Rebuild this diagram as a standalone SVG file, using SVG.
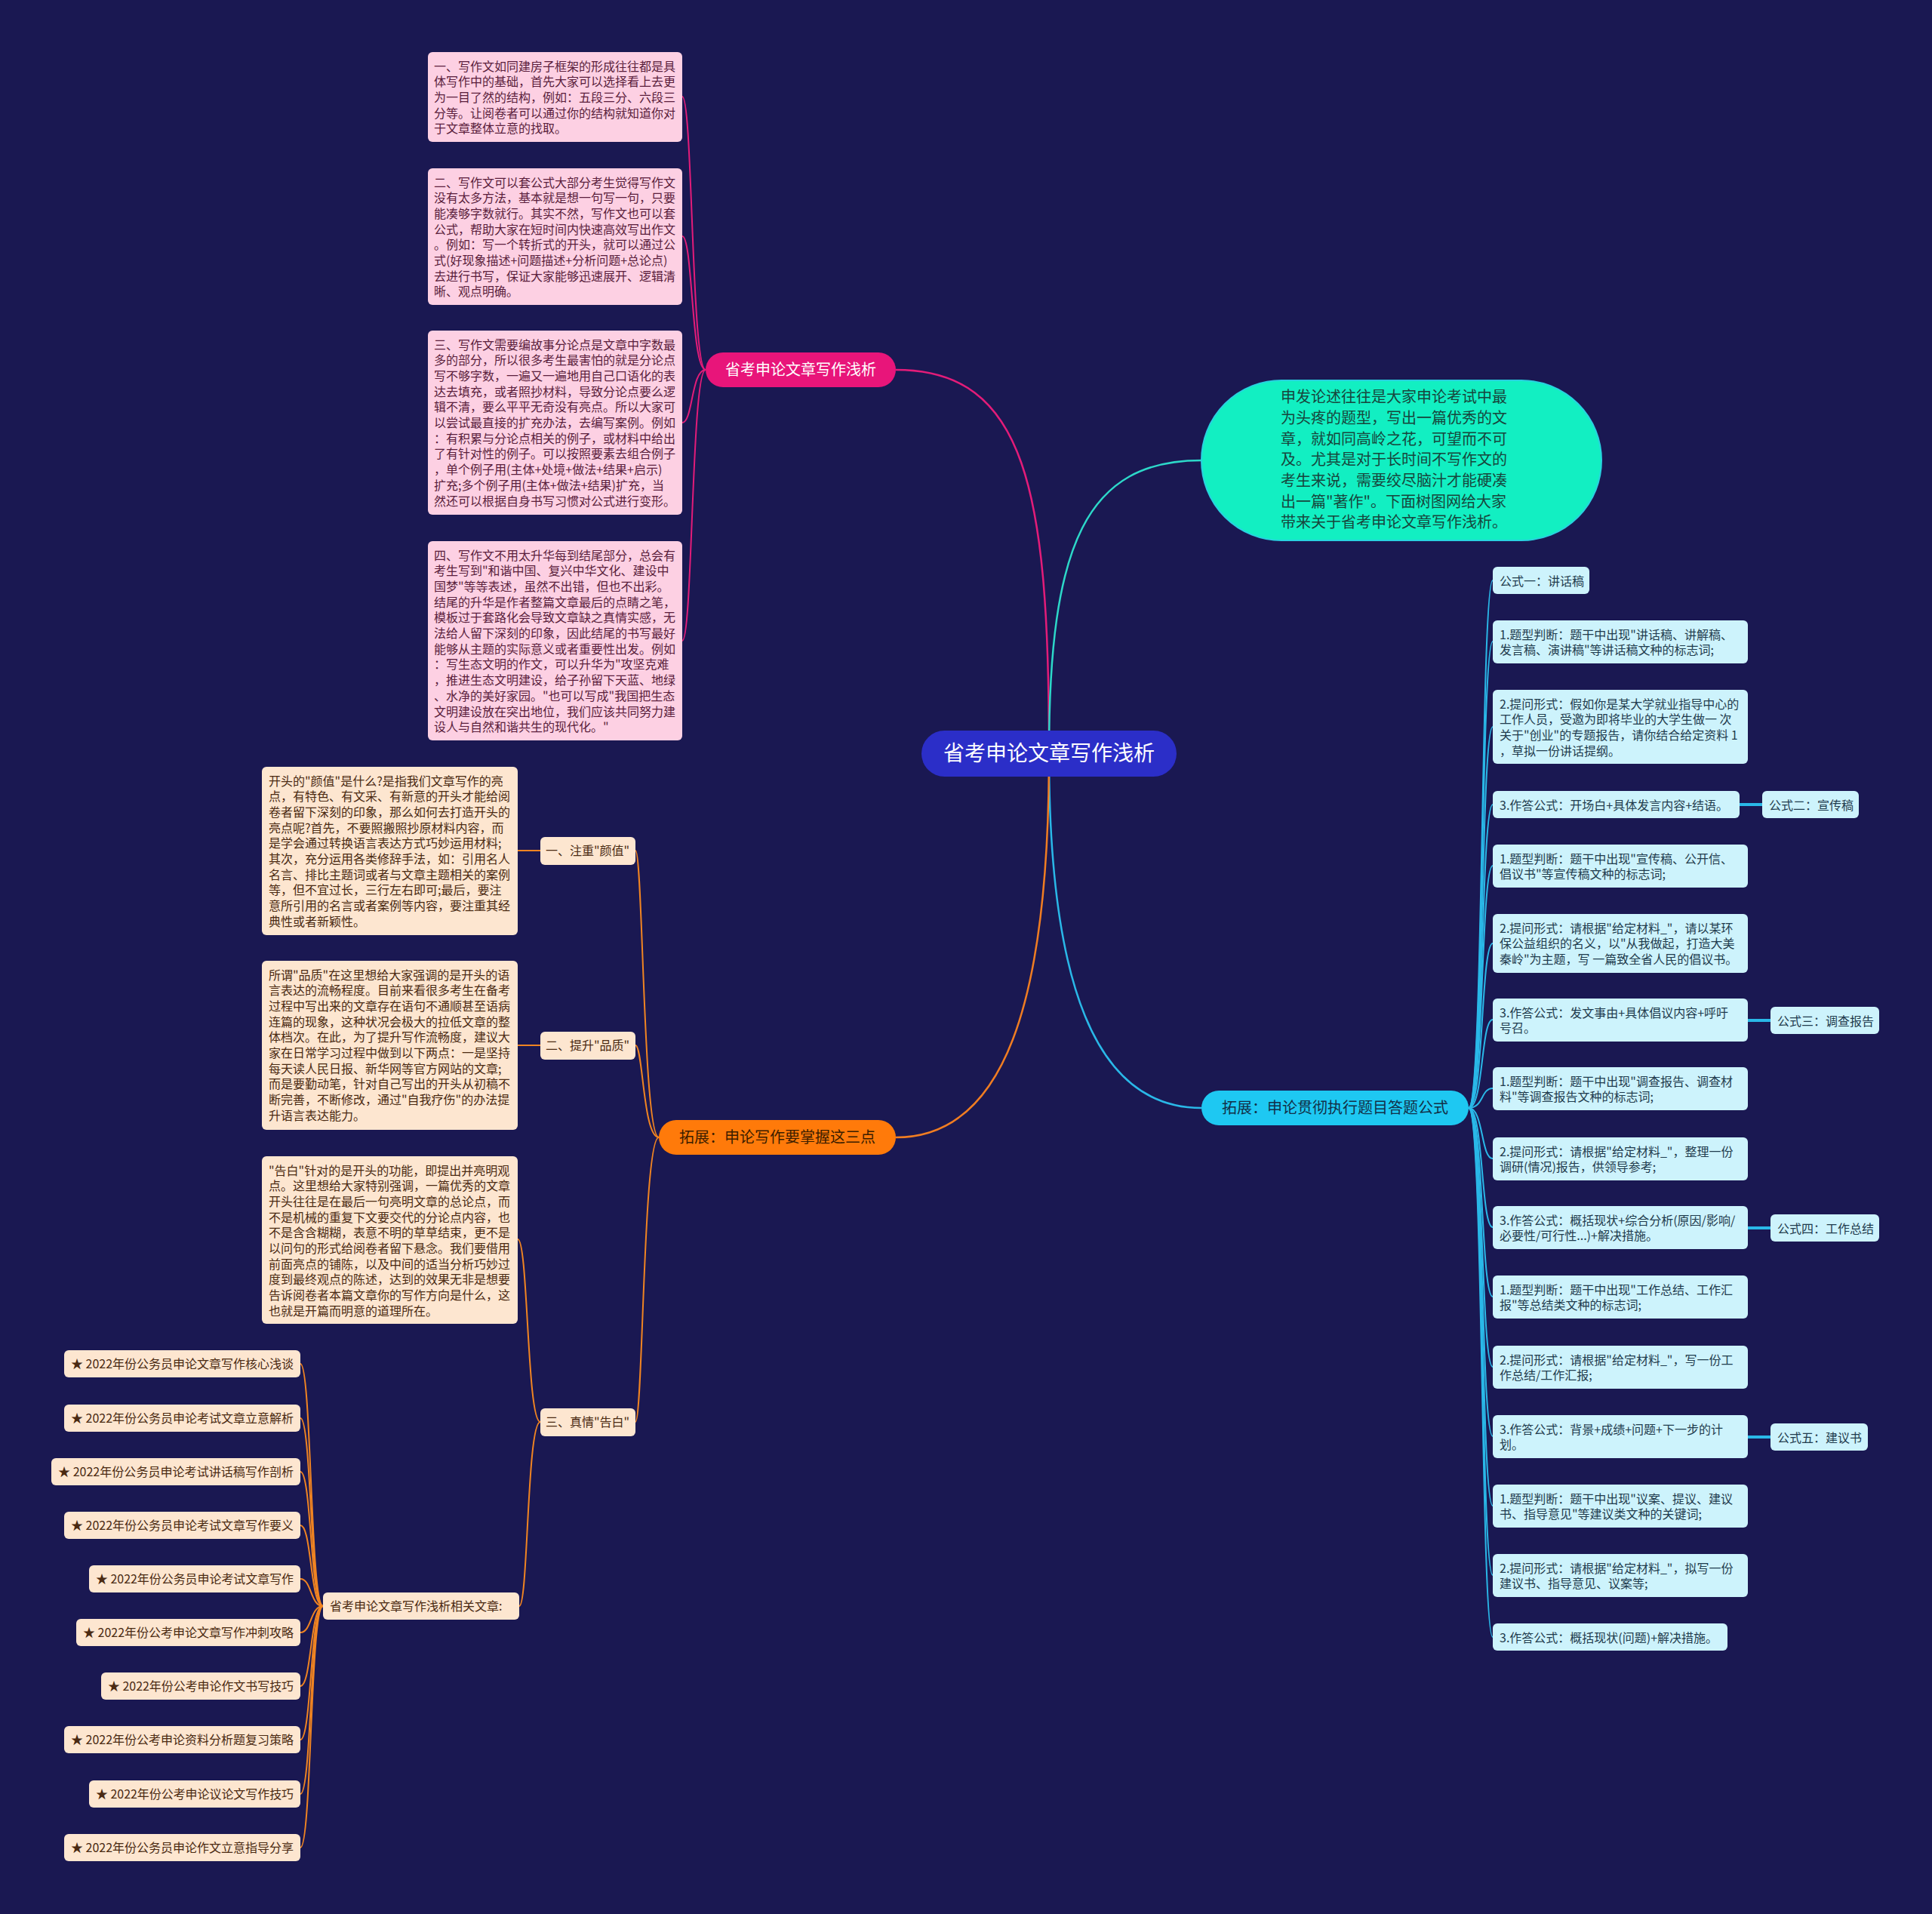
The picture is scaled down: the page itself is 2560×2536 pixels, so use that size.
<svg xmlns="http://www.w3.org/2000/svg" width="2560" height="2536" viewBox="0 0 2560 2536">
<style>
text{font-family:'Noto Sans CJK SC','Noto Sans',sans-serif;}
.pb{fill:#fdd0e3;}
.pt{fill:#5a1e3c;font-size:16px;}
.ob{fill:#fde6d0;}
.ot{fill:#4a2a12;font-size:16px;}
.it{fill:#4a2a12;font-size:16px;}
.cb{fill:#cdf3fc;}
.ct{fill:#1f3b4d;font-size:16px;}
.lp{fill:none;stroke:#e31c79;stroke-width:2;}
.lo{fill:none;stroke:#f08422;stroke-width:2;}
.lc{fill:none;stroke:#2ab8e8;stroke-width:2;}
.lcw{fill:none;stroke:#2ab8e8;stroke-width:4;}
</style>
<rect x="0" y="0" width="2560" height="2536" fill="#1a1852"/>

<g id="connectors">
  <path d="M1187,490 C1360,490 1390,650 1390,998" fill="none" stroke="#e31c79" stroke-width="2.5"/>
  <path d="M1390,998 C1390,720 1440,610 1592,610" fill="none" stroke="#2dd8c9" stroke-width="2.5"/>
  <path d="M1390,998 C1390,1300 1450,1468 1592,1468" fill="none" stroke="#2ab8e8" stroke-width="2.5"/>
  <path d="M1390,998 C1390,1330 1330,1507 1187,1507" fill="none" stroke="#f07d22" stroke-width="2.5"/>
  <path class="lp" d="M935,490 C916,490 918,128 904,128"/>
  <path class="lp" d="M935,490 C916,490 918,313 904,313"/>
  <path class="lp" d="M935,490 C916,490 918,560 904,560"/>
  <path class="lp" d="M935,490 C916,490 918,849 904,849"/>
  <path class="lo" d="M873,1507 C852,1507 852,1127 842,1127"/>
  <path class="lo" d="M873,1507 C852,1507 852,1385 842,1385"/>
  <path class="lo" d="M873,1507 C852,1507 852,1884 842,1884"/>
  <path class="lo" d="M716,1127 L686,1127"/>
  <path class="lo" d="M716,1385 L686,1385"/>
  <path class="lo" d="M716,1884 C698,1884 700,1642 686,1642"/>
  <path class="lo" d="M716,1884 C698,1884 700,2128 688,2128"/>
  <path class="lo" d="M428,2128 C411,2128 413,1807 398,1807"/>
  <path class="lo" d="M428,2128 C411,2128 413,1879 398,1879"/>
  <path class="lo" d="M428,2128 C411,2128 413,1950 398,1950"/>
  <path class="lo" d="M428,2128 C411,2128 413,2021 398,2021"/>
  <path class="lo" d="M428,2128 C411,2128 413,2092 398,2092"/>
  <path class="lo" d="M428,2128 C411,2128 413,2163 398,2163"/>
  <path class="lo" d="M428,2128 C411,2128 413,2234 398,2234"/>
  <path class="lo" d="M428,2128 C411,2128 413,2305 398,2305"/>
  <path class="lo" d="M428,2128 C411,2128 413,2377 398,2377"/>
  <path class="lo" d="M428,2128 C411,2128 413,2448 398,2448"/>
  <path class="lc" d="M1946,1468 C1966,1468 1962,769 1978,769"/>
  <path class="lc" d="M1946,1468 C1966,1468 1962,850 1978,850"/>
  <path class="lc" d="M1946,1468 C1966,1468 1962,963 1978,963"/>
  <path class="lc" d="M1946,1468 C1966,1468 1962,1066 1978,1066"/>
  <path class="lc" d="M1946,1468 C1966,1468 1962,1147 1978,1147"/>
  <path class="lc" d="M1946,1468 C1966,1468 1962,1250 1978,1250"/>
  <path class="lc" d="M1946,1468 C1966,1468 1962,1351 1978,1351"/>
  <path class="lc" d="M1946,1468 C1966,1468 1962,1442 1978,1442"/>
  <path class="lc" d="M1946,1468 C1966,1468 1962,1535 1978,1535"/>
  <path class="lc" d="M1946,1468 C1966,1468 1962,1626 1978,1626"/>
  <path class="lc" d="M1946,1468 C1966,1468 1962,1718 1978,1718"/>
  <path class="lc" d="M1946,1468 C1966,1468 1962,1811 1978,1811"/>
  <path class="lc" d="M1946,1468 C1966,1468 1962,1903 1978,1903"/>
  <path class="lc" d="M1946,1468 C1966,1468 1962,1995 1978,1995"/>
  <path class="lc" d="M1946,1468 C1966,1468 1962,2087 1978,2087"/>
  <path class="lc" d="M1946,1468 C1966,1468 1962,2169 1978,2169"/>
  <path class="lcw" d="M2305,1066 L2335,1066"/>
  <path class="lcw" d="M2316,1352 L2346,1352"/>
  <path class="lcw" d="M2316,1627 L2346,1627"/>
  <path class="lcw" d="M2316,1904 L2346,1904"/>
</g>

<g id="center">
  <rect x="1221" y="968" width="338" height="61" rx="30.5" fill="#2b2ec8"/>
  <text x="1390" y="1008" font-size="28" fill="#ffffff" text-anchor="middle">省考申论文章写作浅析</text>
</g>

<g id="branch-pink">
  <rect x="935" y="467" width="252" height="46" rx="23" fill="#e8157a"/>
  <text x="1061" y="497" font-size="20" fill="#ffffff" text-anchor="middle">省考申论文章写作浅析</text>
</g>

<g id="branch-teal">
  <rect x="1592" y="504" width="530" height="212" rx="106" fill="#12efc2" stroke="#28d2e0" stroke-width="2"/>
  <text font-size="20" fill="#17463c">
    <tspan x="1697" y="533">申发论述往往是大家申论考试中最</tspan>
    <tspan x="1697" y="561">为头疼的题型，写出一篇优秀的文</tspan>
    <tspan x="1697" y="589">章，就如同高岭之花，可望而不可</tspan>
    <tspan x="1697" y="616">及。尤其是对于长时间不写作文的</tspan>
    <tspan x="1697" y="644">考生来说，需要绞尽脑汁才能硬凑</tspan>
    <tspan x="1697" y="672">出一篇"著作"。下面树图网给大家</tspan>
    <tspan x="1697" y="699">带来关于省考申论文章写作浅析。</tspan>
  </text>
</g>

<g id="branch-cyan">
  <rect x="1592" y="1445" width="354" height="46" rx="23" fill="#1ec8f2"/>
  <text x="1769" y="1475" font-size="20" fill="#123048" text-anchor="middle">拓展：申论贯彻执行题目答题公式</text>
</g>

<g id="branch-orange">
  <rect x="873" y="1484" width="314" height="46" rx="23" fill="#ff7a0a"/>
  <text x="1030" y="1514" font-size="20" fill="#3b1d00" text-anchor="middle">拓展：申论写作要掌握这三点</text>
</g>

<g id="pink-1">
  <rect class="pb" x="567" y="69" width="337" height="119" rx="6"/>
  <text class="pt">
    <tspan x="575" y="93.5">一、写作文如同建房子框架的形成往往都是具</tspan>
    <tspan x="575" y="114.2">体写作中的基础，首先大家可以选择看上去更</tspan>
    <tspan x="575" y="134.9">为一目了然的结构，例如：五段三分、六段三</tspan>
    <tspan x="575" y="155.6">分等。让阅卷者可以通过你的结构就知道你对</tspan>
    <tspan x="575" y="176.3">于文章整体立意的找取。</tspan>
  </text>
</g>
<g id="pink-2">
  <rect class="pb" x="567" y="223" width="337" height="181" rx="6"/>
  <text class="pt">
    <tspan x="575" y="247.5">二、写作文可以套公式大部分考生觉得写作文</tspan>
    <tspan x="575" y="268.2">没有太多方法，基本就是想一句写一句，只要</tspan>
    <tspan x="575" y="288.9">能凑够字数就行。其实不然，写作文也可以套</tspan>
    <tspan x="575" y="309.6">公式，帮助大家在短时间内快速高效写出作文</tspan>
    <tspan x="575" y="330.3">。例如：写一个转折式的开头，就可以通过公</tspan>
    <tspan x="575" y="351">式(好现象描述+问题描述+分析问题+总论点)</tspan>
    <tspan x="575" y="371.7">去进行书写，保证大家能够迅速展开、逻辑清</tspan>
    <tspan x="575" y="392.4">晰、观点明确。</tspan>
  </text>
</g>
<g id="pink-3">
  <rect class="pb" x="567" y="438" width="337" height="244" rx="6"/>
  <text class="pt">
    <tspan x="575" y="462.5">三、写作文需要编故事分论点是文章中字数最</tspan>
    <tspan x="575" y="483.2">多的部分，所以很多考生最害怕的就是分论点</tspan>
    <tspan x="575" y="503.9">写不够字数，一遍又一遍地用自己口语化的表</tspan>
    <tspan x="575" y="524.6">达去填充，或者照抄材料，导致分论点要么逻</tspan>
    <tspan x="575" y="545.3">辑不清，要么平平无奇没有亮点。所以大家可</tspan>
    <tspan x="575" y="566">以尝试最直接的扩充办法，去编写案例。例如</tspan>
    <tspan x="575" y="586.7">：有积累与分论点相关的例子，或材料中给出</tspan>
    <tspan x="575" y="607.4">了有针对性的例子。可以按照要素去组合例子</tspan>
    <tspan x="575" y="628.1">，单个例子用(主体+处境+做法+结果+启示)</tspan>
    <tspan x="575" y="648.8">扩充;多个例子用(主体+做法+结果)扩充，当</tspan>
    <tspan x="575" y="669.5">然还可以根据自身书写习惯对公式进行变形。</tspan>
  </text>
</g>
<g id="pink-4">
  <rect class="pb" x="567" y="717" width="337" height="264" rx="6"/>
  <text class="pt">
    <tspan x="575" y="741.5">四、写作文不用太升华每到结尾部分，总会有</tspan>
    <tspan x="575" y="762.2">考生写到"和谐中国、复兴中华文化、建设中</tspan>
    <tspan x="575" y="782.9">国梦"等等表述，虽然不出错，但也不出彩。</tspan>
    <tspan x="575" y="803.6">结尾的升华是作者整篇文章最后的点睛之笔，</tspan>
    <tspan x="575" y="824.3">模板过于套路化会导致文章缺之真情实感，无</tspan>
    <tspan x="575" y="845">法给人留下深刻的印象，因此结尾的书写最好</tspan>
    <tspan x="575" y="865.7">能够从主题的实际意义或者重要性出发。例如</tspan>
    <tspan x="575" y="886.4">：写生态文明的作文，可以升华为"攻坚克难</tspan>
    <tspan x="575" y="907.1">，推进生态文明建设，给子孙留下天蓝、地绿</tspan>
    <tspan x="575" y="927.8">、水净的美好家园。"也可以写成"我国把生态</tspan>
    <tspan x="575" y="948.5">文明建设放在突出地位，我们应该共同努力建</tspan>
    <tspan x="575" y="969.2">设人与自然和谐共生的现代化。"</tspan>
  </text>
</g>

<g id="orange-label-1">
  <rect class="ob" x="716" y="1109" width="126" height="37" rx="6"/>
  <text class="ot" x="723" y="1133">一、注重"颜值"</text>
</g>
<g id="orange-label-2">
  <rect class="ob" x="716" y="1367" width="126" height="37" rx="6"/>
  <text class="ot" x="723" y="1391">二、提升"品质"</text>
</g>
<g id="orange-label-3">
  <rect class="ob" x="716" y="1866" width="126" height="37" rx="6"/>
  <text class="ot" x="723" y="1890">三、真情"告白"</text>
</g>

<g id="orange-box-1">
  <rect class="ob" x="347" y="1016" width="339" height="223" rx="6"/>
  <text class="ot">
    <tspan x="356" y="1040.5">开头的"颜值"是什么?是指我们文章写作的亮</tspan>
    <tspan x="356" y="1061.2">点，有特色、有文采、有新意的开头才能给阅</tspan>
    <tspan x="356" y="1081.9">卷者留下深刻的印象，那么如何去打造开头的</tspan>
    <tspan x="356" y="1102.6">亮点呢?首先，不要照搬照抄原材料内容，而</tspan>
    <tspan x="356" y="1123.3">是学会通过转换语言表达方式巧妙运用材料;</tspan>
    <tspan x="356" y="1144">其次，充分运用各类修辞手法，如：引用名人</tspan>
    <tspan x="356" y="1164.7">名言、排比主题词或者与文章主题相关的案例</tspan>
    <tspan x="356" y="1185.4">等，但不宜过长，三行左右即可;最后，要注</tspan>
    <tspan x="356" y="1206.1">意所引用的名言或者案例等内容，要注重其经</tspan>
    <tspan x="356" y="1226.8">典性或者新颖性。</tspan>
  </text>
</g>
<g id="orange-box-2">
  <rect class="ob" x="347" y="1273" width="339" height="224" rx="6"/>
  <text class="ot">
    <tspan x="356" y="1297.5">所谓"品质"在这里想给大家强调的是开头的语</tspan>
    <tspan x="356" y="1318.2">言表达的流畅程度。目前来看很多考生在备考</tspan>
    <tspan x="356" y="1338.9">过程中写出来的文章存在语句不通顺甚至语病</tspan>
    <tspan x="356" y="1359.6">连篇的现象，这种状况会极大的拉低文章的整</tspan>
    <tspan x="356" y="1380.3">体档次。在此，为了提升写作流畅度，建议大</tspan>
    <tspan x="356" y="1401">家在日常学习过程中做到以下两点：一是坚持</tspan>
    <tspan x="356" y="1421.7">每天读人民日报、新华网等官方网站的文章;</tspan>
    <tspan x="356" y="1442.4">而是要勤动笔，针对自己写出的开头从初稿不</tspan>
    <tspan x="356" y="1463.1">断完善，不断修改，通过"自我疗伤"的办法提</tspan>
    <tspan x="356" y="1483.8">升语言表达能力。</tspan>
  </text>
</g>
<g id="orange-box-3">
  <rect class="ob" x="347" y="1532" width="339" height="222" rx="6"/>
  <text class="ot">
    <tspan x="356" y="1556.5">"告白"针对的是开头的功能，即提出并亮明观</tspan>
    <tspan x="356" y="1577.2">点。这里想给大家特别强调，一篇优秀的文章</tspan>
    <tspan x="356" y="1597.9">开头往往是在最后一句亮明文章的总论点，而</tspan>
    <tspan x="356" y="1618.6">不是机械的重复下文要交代的分论点内容，也</tspan>
    <tspan x="356" y="1639.3">不是含含糊糊，表意不明的草草结束，更不是</tspan>
    <tspan x="356" y="1660">以问句的形式给阅卷者留下悬念。我们要借用</tspan>
    <tspan x="356" y="1680.7">前面亮点的铺陈，以及中间的适当分析巧妙过</tspan>
    <tspan x="356" y="1701.4">度到最终观点的陈述，达到的效果无非是想要</tspan>
    <tspan x="356" y="1722.1">告诉阅卷者本篇文章你的写作方向是什么，这</tspan>
    <tspan x="356" y="1742.8">也就是开篇而明意的道理所在。</tspan>
  </text>
</g>

<g id="related-label">
  <rect class="ob" x="428" y="2110" width="260" height="36" rx="6"/>
  <text class="ot" x="437" y="2134">省考申论文章写作浅析相关文章:</text>
</g>

<g id="item-1"><rect class="ob" x="85" y="1789" width="313" height="36" rx="6"/><text class="it" x="94" y="1813" textLength="295" lengthAdjust="spacingAndGlyphs">★ 2022年份公务员申论文章写作核心浅谈</text></g>
<g id="item-2"><rect class="ob" x="85" y="1861" width="313" height="36" rx="6"/><text class="it" x="94" y="1885" textLength="295" lengthAdjust="spacingAndGlyphs">★ 2022年份公务员申论考试文章立意解析</text></g>
<g id="item-3"><rect class="ob" x="68" y="1932" width="330" height="36" rx="6"/><text class="it" x="77" y="1956" textLength="312" lengthAdjust="spacingAndGlyphs">★ 2022年份公务员申论考试讲话稿写作剖析</text></g>
<g id="item-4"><rect class="ob" x="85" y="2003" width="313" height="36" rx="6"/><text class="it" x="94" y="2027" textLength="295" lengthAdjust="spacingAndGlyphs">★ 2022年份公务员申论考试文章写作要义</text></g>
<g id="item-5"><rect class="ob" x="118" y="2074" width="280" height="36" rx="6"/><text class="it" x="127" y="2098" textLength="262" lengthAdjust="spacingAndGlyphs">★ 2022年份公务员申论考试文章写作</text></g>
<g id="item-6"><rect class="ob" x="101" y="2145" width="297" height="36" rx="6"/><text class="it" x="110" y="2169" textLength="279" lengthAdjust="spacingAndGlyphs">★ 2022年份公考申论文章写作冲刺攻略</text></g>
<g id="item-7"><rect class="ob" x="134" y="2216" width="264" height="36" rx="6"/><text class="it" x="143" y="2240" textLength="246" lengthAdjust="spacingAndGlyphs">★ 2022年份公考申论作文书写技巧</text></g>
<g id="item-8"><rect class="ob" x="85" y="2287" width="313" height="36" rx="6"/><text class="it" x="94" y="2311" textLength="295" lengthAdjust="spacingAndGlyphs">★ 2022年份公考申论资料分析题复习策略</text></g>
<g id="item-9"><rect class="ob" x="118" y="2359" width="280" height="36" rx="6"/><text class="it" x="127" y="2383" textLength="262" lengthAdjust="spacingAndGlyphs">★ 2022年份公考申论议论文写作技巧</text></g>
<g id="item-10"><rect class="ob" x="85" y="2430" width="313" height="36" rx="6"/><text class="it" x="94" y="2454" textLength="295" lengthAdjust="spacingAndGlyphs">★ 2022年份公务员申论作文立意指导分享</text></g>

<g id="c0"><rect class="cb" x="1978" y="751" width="128" height="36" rx="6"/><text class="ct" x="1987" y="775.5">公式一：讲话稿</text></g>
<g id="c1"><rect class="cb" x="1978" y="822" width="338" height="57" rx="6"/><text class="ct"><tspan x="1987" y="846.5">1.题型判断：题干中出现"讲话稿、讲解稿、</tspan><tspan x="1987" y="867.2">发言稿、演讲稿"等讲话稿文种的标志词;</tspan></text></g>
<g id="c2"><rect class="cb" x="1978" y="914" width="338" height="98" rx="6"/><text class="ct"><tspan x="1987" y="938.5">2.提问形式：假如你是某大学就业指导中心的</tspan><tspan x="1987" y="959.2">工作人员，受邀为即将毕业的大学生做一 次</tspan><tspan x="1987" y="979.9">关于"创业"的专题报告，请你结合给定资料 1</tspan><tspan x="1987" y="1000.6">，草拟一份讲话提纲。</tspan></text></g>
<g id="c3"><rect class="cb" x="1978" y="1048" width="327" height="36" rx="6"/><text class="ct" x="1987" y="1072.5">3.作答公式：开场白+具体发言内容+结语。</text></g>
<g id="f2"><rect class="cb" x="2335" y="1048" width="128" height="36" rx="6"/><text class="ct" x="2344" y="1072.5">公式二：宣传稿</text></g>
<g id="c4"><rect class="cb" x="1978" y="1119" width="338" height="57" rx="6"/><text class="ct"><tspan x="1987" y="1143.5">1.题型判断：题干中出现"宣传稿、公开信、</tspan><tspan x="1987" y="1164.2">倡议书"等宣传稿文种的标志词;</tspan></text></g>
<g id="c5"><rect class="cb" x="1978" y="1211" width="338" height="78" rx="6"/><text class="ct"><tspan x="1987" y="1235.5">2.提问形式：请根据"给定材料_"，请以某环</tspan><tspan x="1987" y="1256.2">保公益组织的名义，以"从我做起，打造大美</tspan><tspan x="1987" y="1276.9">秦岭"为主题，写 一篇致全省人民的倡议书。</tspan></text></g>
<g id="c6"><rect class="cb" x="1978" y="1323" width="338" height="57" rx="6"/><text class="ct"><tspan x="1987" y="1347.5">3.作答公式：发文事由+具体倡议内容+呼吁</tspan><tspan x="1987" y="1368.2">号召。</tspan></text></g>
<g id="f3"><rect class="cb" x="2346" y="1334" width="144" height="36" rx="6"/><text class="ct" x="2355" y="1358.5">公式三：调查报告</text></g>
<g id="c7"><rect class="cb" x="1978" y="1414" width="338" height="57" rx="6"/><text class="ct"><tspan x="1987" y="1438.5">1.题型判断：题干中出现"调查报告、调查材</tspan><tspan x="1987" y="1459.2">料"等调查报告文种的标志词;</tspan></text></g>
<g id="c8"><rect class="cb" x="1978" y="1507" width="338" height="57" rx="6"/><text class="ct"><tspan x="1987" y="1531.5">2.提问形式：请根据"给定材料_"，整理一份</tspan><tspan x="1987" y="1552.2">调研(情况)报告，供领导参考;</tspan></text></g>
<g id="c9"><rect class="cb" x="1978" y="1598" width="338" height="57" rx="6"/><text class="ct"><tspan x="1987" y="1622.5">3.作答公式：概括现状+综合分析(原因/影响/</tspan><tspan x="1987" y="1643.2">必要性/可行性...)+解决措施。</tspan></text></g>
<g id="f4"><rect class="cb" x="2346" y="1609" width="144" height="36" rx="6"/><text class="ct" x="2355" y="1633.5">公式四：工作总结</text></g>
<g id="c10"><rect class="cb" x="1978" y="1690" width="338" height="57" rx="6"/><text class="ct"><tspan x="1987" y="1714.5">1.题型判断：题干中出现"工作总结、工作汇</tspan><tspan x="1987" y="1735.2">报"等总结类文种的标志词;</tspan></text></g>
<g id="c11"><rect class="cb" x="1978" y="1783" width="338" height="57" rx="6"/><text class="ct"><tspan x="1987" y="1807.5">2.提问形式：请根据"给定材料_"，写一份工</tspan><tspan x="1987" y="1828.2">作总结/工作汇报;</tspan></text></g>
<g id="c12"><rect class="cb" x="1978" y="1875" width="338" height="57" rx="6"/><text class="ct"><tspan x="1987" y="1899.5">3.作答公式：背景+成绩+问题+下一步的计</tspan><tspan x="1987" y="1920.2">划。</tspan></text></g>
<g id="f5"><rect class="cb" x="2346" y="1886" width="129" height="36" rx="6"/><text class="ct" x="2355" y="1910.5">公式五：建议书</text></g>
<g id="c13"><rect class="cb" x="1978" y="1967" width="338" height="57" rx="6"/><text class="ct"><tspan x="1987" y="1991.5">1.题型判断：题干中出现"议案、提议、建议</tspan><tspan x="1987" y="2012.2">书、指导意见"等建议类文种的关键词;</tspan></text></g>
<g id="c14"><rect class="cb" x="1978" y="2059" width="338" height="57" rx="6"/><text class="ct"><tspan x="1987" y="2083.5">2.提问形式：请根据"给定材料_"，拟写一份</tspan><tspan x="1987" y="2104.2">建议书、指导意见、议案等;</tspan></text></g>
<g id="c15"><rect class="cb" x="1978" y="2151" width="311" height="36" rx="6"/><text class="ct" x="1987" y="2175.5">3.作答公式：概括现状(问题)+解决措施。</text></g>
</svg>
